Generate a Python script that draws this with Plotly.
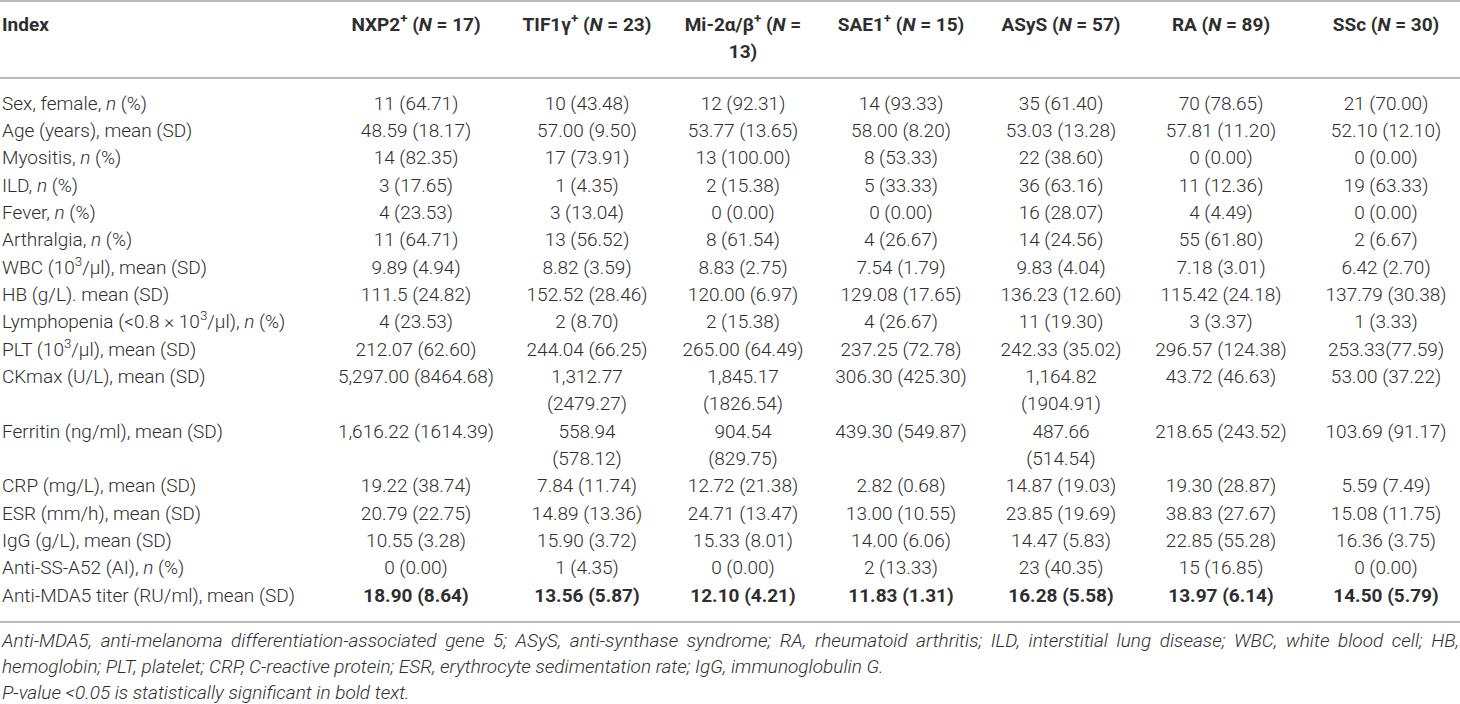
import plotly.graph_objects as go

# Table content
index_labels = [
    "Sex, female, <i>n</i> (%)",
    "Age (years), mean (SD)",
    "Myositis, <i>n</i> (%)",
    "ILD, <i>n</i> (%)",
    "Fever, <i>n</i> (%)",
    "Arthralgia, <i>n</i> (%)",
    "WBC (10<sup>3</sup>/μl), mean (SD)",
    "HB (g/L). mean (SD)",
    "Lymphopenia (&lt;0.8 × 10<sup>3</sup>/μl), <i>n</i> (%)",
    "PLT (10<sup>3</sup>/μl), mean (SD)",
    "CKmax (U/L), mean (SD)",
    "Ferritin (ng/ml), mean (SD)",
    "CRP (mg/L), mean (SD)",
    "ESR (mm/h), mean (SD)",
    "IgG (g/L), mean (SD)",
    "Anti-SS-A52 (AI), <i>n</i> (%)",
    "Anti-MDA5 titer (RU/ml), mean (SD)",
]

group_headers = [
    "NXP2<sup>+</sup> (<i>N</i> = 17)",
    "TIF1γ<sup>+</sup> (<i>N</i> = 23)",
    "Mi-2α/β<sup>+</sup> (<i>N</i> =<br>13)",
    "SAE1<sup>+</sup> (<i>N</i> = 15)",
    "ASyS (<i>N</i> = 57)",
    "RA (<i>N</i> = 89)",
    "SSc (<i>N</i> = 30)",
]

nxp2 = ["11 (64.71)", "48.59 (18.17)", "14 (82.35)", "3 (17.65)", "4 (23.53)",
        "11 (64.71)", "9.89 (4.94)", "111.5 (24.82)", "4 (23.53)", "212.07 (62.60)",
        "5,297.00 (8464.68)", "1,616.22 (1614.39)", "19.22 (38.74)", "20.79 (22.75)",
        "10.55 (3.28)", "0 (0.00)", "18.90 (8.64)"]
tif1 = ["10 (43.48)", "57.00 (9.50)", "17 (73.91)", "1 (4.35)", "3 (13.04)",
        "13 (56.52)", "8.82 (3.59)", "152.52 (28.46)", "2 (8.70)", "244.04 (66.25)",
        "1,312.77<br>(2479.27)", "558.94<br>(578.12)", "7.84 (11.74)", "14.89 (13.36)",
        "15.90 (3.72)", "1 (4.35)", "13.56 (5.87)"]
mi2 = ["12 (92.31)", "53.77 (13.65)", "13 (100.00)", "2 (15.38)", "0 (0.00)",
       "8 (61.54)", "8.83 (2.75)", "120.00 (6.97)", "2 (15.38)", "265.00 (64.49)",
       "1,845.17<br>(1826.54)", "904.54<br>(829.75)", "12.72 (21.38)", "24.71 (13.47)",
       "15.33 (8.01)", "0 (0.00)", "12.10 (4.21)"]
sae1 = ["14 (93.33)", "58.00 (8.20)", "8 (53.33)", "5 (33.33)", "0 (0.00)",
        "4 (26.67)", "7.54 (1.79)", "129.08 (17.65)", "4 (26.67)", "237.25 (72.78)",
        "306.30 (425.30)", "439.30 (549.87)", "2.82 (0.68)", "13.00 (10.55)",
        "14.00 (6.06)", "2 (13.33)", "11.83 (1.31)"]
asys = ["35 (61.40)", "53.03 (13.28)", "22 (38.60)", "36 (63.16)", "16 (28.07)",
        "14 (24.56)", "9.83 (4.04)", "136.23 (12.60)", "11 (19.30)", "242.33 (35.02)",
        "1,164.82<br>(1904.91)", "487.66<br>(514.54)", "14.87 (19.03)", "23.85 (19.69)",
        "14.47 (5.83)", "23 (40.35)", "16.28 (5.58)"]
ra = ["70 (78.65)", "57.81 (11.20)", "0 (0.00)", "11 (12.36)", "4 (4.49)",
      "55 (61.80)", "7.18 (3.01)", "115.42 (24.18)", "3 (3.37)", "296.57 (124.38)",
      "43.72 (46.63)", "218.65 (243.52)", "19.30 (28.87)", "38.83 (27.67)",
      "22.85 (55.28)", "15 (16.85)", "13.97 (6.14)"]
ssc = ["21 (70.00)", "52.10 (12.10)", "0 (0.00)", "19 (63.33)", "0 (0.00)",
       "2 (6.67)", "6.42 (2.70)", "137.79 (30.38)", "1 (3.33)", "253.33(77.59)",
       "53.00 (37.22)", "103.69 (91.17)", "5.59 (7.49)", "15.08 (11.75)",
       "16.36 (3.75)", "0 (0.00)", "14.50 (5.79)"]

bold_rows = ["Anti-MDA5 titer (RU/ml), mean (SD)"]

footnotes = [
    "Anti-MDA5, anti-melanoma differentiation-associated gene 5; ASyS, anti-synthase syndrome; "
    "RA, rheumatoid arthritis; ILD, interstitial lung disease; WBC, white blood cell; HB,",
    "hemoglobin; PLT, platelet; CRP, C-reactive protein; ESR, erythrocyte sedimentation rate; "
    "IgG, immunoglobulin G.",
    "P-value &lt;0.05 is statistically significant in bold text.",
]

columns = [nxp2, tif1, mi2, sae1, asys, ra, ssc]

# Layout (pixel space)
W, H = 1460, 704
col_x = [416, 587, 743, 901, 1061, 1221, 1386]
index_x = 2
header_y, header_step = 26, 27
body_y, body_step = 105, 27.33
rule_y = [1, 78, 622]
foot_y, foot_step = 642, 26.3

FONT = "Roboto"
TEXT_COLOR = "#2e2e2e"
SIZE = 19

# assign line slots to each body row (a wrapped cell takes two slots)
row_slot = []
slot = 0
for r in range(len(index_labels)):
    row_slot.append(slot)
    n_lines = max(c[r].count("<br>") + 1 for c in columns)
    slot += n_lines

fig = go.Figure()

def add_text(xs, ys, texts, pos, italic=False):
    fig.add_trace(go.Scatter(
        x=xs, y=ys, text=texts, mode="text",
        textposition=pos,
        textfont=dict(family=FONT, size=SIZE, color=TEXT_COLOR,
                      weight=300, style="italic" if italic else "normal"),
        hoverinfo="skip", showlegend=False, cliponaxis=False,
    ))

# header row
add_text([index_x], [header_y], ["<b>Index</b>"], "middle right")
hx, hy, ht = [], [], []
for x, h in zip(col_x, group_headers):
    for k, part in enumerate(h.split("<br>")):
        hx.append(x)
        hy.append(header_y + k * header_step)
        ht.append("<b>" + part + "</b>")
add_text(hx, hy, ht, "middle center")

# index column
add_text([index_x] * len(index_labels),
         [body_y + s * body_step for s in row_slot],
         index_labels, "middle right")

# value columns
for x, col in zip(col_x, columns):
    xs, ys, ts = [], [], []
    for r, val in enumerate(col):
        for k, part in enumerate(val.split("<br>")):
            if index_labels[r] in bold_rows:
                part = "<b>" + part + "</b>"
            xs.append(x)
            ys.append(body_y + (row_slot[r] + k) * body_step)
            ts.append(part)
    add_text(xs, ys, ts, "middle center")

# footnotes (first line is justified in the source, so widen its word gaps)
foot_text = list(footnotes)
foot_text[0] = foot_text[0].replace(" ", " \u200a\u200a")
add_text([index_x] * len(foot_text),
         [foot_y + i * foot_step for i in range(len(foot_text))],
         foot_text, "middle right", italic=True)

# horizontal rules
for y in rule_y:
    fig.add_shape(type="line", xref="paper", x0=0, x1=1, y0=y, y1=y,
                  line=dict(color="#a6a6a6", width=1.5))

fig.update_layout(
    width=W, height=H,
    margin=dict(l=0, r=0, t=0, b=0),
    paper_bgcolor="white", plot_bgcolor="white",
    xaxis=dict(range=[0, W], visible=False, fixedrange=True),
    yaxis=dict(range=[H, 0], visible=False, fixedrange=True),
)

fig.write_html("out.html", config={"displayModeBar": False},
               post_script="document.body.style.margin = '0';")
